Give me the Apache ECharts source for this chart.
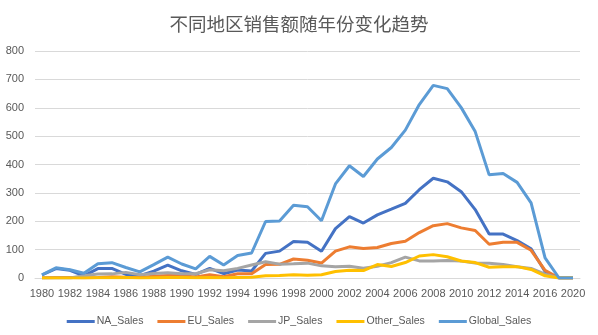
<!DOCTYPE html>
<html>
<head>
<meta charset="utf-8">
<script src="https://cdn.jsdelivr.net/npm/echarts@6/dist/echarts.min.js"></script>
<style>html,body{margin:0;padding:0;background:#fff;}#c{width:598px;height:335px;}</style>
</head>
<body>
<div id="c"></div>
<script>
const years = ['1980','1981','1982','1983','1984','1985','1986','1987','1988','1989','1990','1991','1992','1993','1994','1995','1996','1997','1998','1999','2000','2001','2002','2003','2004','2005','2006','2007','2008','2009','2010','2011','2012','2013','2014','2015','2016','2017','2020'];
const naSales = [10.59,33.40,26.92,7.76,33.28,33.73,12.50,8.46,23.87,45.15,25.46,12.76,33.87,15.12,28.15,24.82,86.76,94.75,128.36,126.06,94.49,173.98,216.19,193.59,222.59,242.61,263.12,311.18,351.44,338.85,304.24,241.21,154.96,154.77,131.97,102.82,22.66,0,0.27];
const euSales = [0.67,1.96,1.65,0.80,2.10,4.74,2.84,1.41,6.59,8.44,7.63,3.95,11.71,4.65,14.88,14.90,47.26,48.32,66.90,62.67,52.75,94.89,109.74,103.81,107.32,121.55,129.24,160.18,184.40,191.59,176.57,167.31,118.78,125.80,125.65,97.71,26.76,0,0];
const jpSales = [0,0,0,8.10,14.27,14.56,19.81,11.63,15.76,18.36,14.88,14.78,28.91,25.33,33.99,45.75,57.44,48.87,50.04,52.34,42.77,39.86,41.76,34.20,41.65,54.28,73.73,60.29,60.26,61.89,59.49,53.04,51.80,47.59,39.46,33.72,13.70,0.05,0];
const otherSales = [0.12,0.32,0.31,0.14,0.70,0.92,1.93,0.20,0.99,1.50,1.40,0.74,1.65,0.89,2.20,2.64,7.69,9.13,11.03,10.05,11.62,22.76,27.28,26.01,47.29,40.58,54.43,77.58,82.39,74.77,59.76,54.39,37.82,39.82,40.02,30.01,7.75,0,0.02];
const globalSales = [11.38,35.77,28.86,16.79,50.36,53.94,37.07,21.74,47.22,73.45,49.39,32.23,76.16,45.98,79.17,88.11,199.15,200.98,256.47,251.27,201.56,331.47,395.52,357.85,419.31,459.94,521.04,611.13,678.90,667.30,600.45,515.99,363.54,368.11,337.05,264.44,70.93,0.05,0.29];
const seriesNames = ['NA_Sales','EU_Sales','JP_Sales','Other_Sales','Global_Sales'];
const seriesData = [naSales, euSales, jpSales, otherSales, globalSales];
const colors = ['#4472C4','#ED7D31','#A5A5A5','#FFC000','#5B9BD5'];

const chart = echarts.init(document.getElementById('c'), null, {renderer:'canvas'});
chart.setOption({
  animation: false,
  color: colors,
  title: {
    text: '不同地区销售额随年份变化趋势',
    left: 'center', top: 10,
    textStyle: {fontFamily: 'Noto Sans CJK SC', fontSize: 18.5, fontWeight: 'normal', color: '#595959'}
  },
  legend: {
    bottom: 3, left: 'center',
    icon: 'rect', itemWidth: 28, itemHeight: 3, itemGap: 14,
    textStyle: {fontFamily: 'Liberation Sans', fontSize: 10.5, color: '#595959', padding: [0,0,0,-3]},
    data: seriesNames
  },
  grid: {left: 35, right: 18, top: 51, bottom: 57},
  xAxis: {
    type: 'category', data: years, boundaryGap: true,
    axisTick: {show: false},
    axisLine: {lineStyle: {color: '#d9d9d9', width: 1}},
    axisLabel: {interval: 1, color: '#595959', fontFamily: 'Liberation Sans', fontSize: 11, margin: 10}
  },
  yAxis: {
    type: 'value', min: 0, max: 800, interval: 100,
    axisLine: {show: false}, axisTick: {show: false},
    splitLine: {lineStyle: {color: '#d9d9d9', width: 1}},
    axisLabel: {color: '#595959', fontFamily: 'Liberation Sans', fontSize: 11, margin: 11}
  },
  series: seriesNames.map((n, i) => ({
    name: n, type: 'line', data: seriesData[i], symbol: 'none', smooth: false,
    lineStyle: {width: 3, color: colors[i]}, itemStyle: {color: colors[i]}
  }))
});
</script>
</body>
</html>
